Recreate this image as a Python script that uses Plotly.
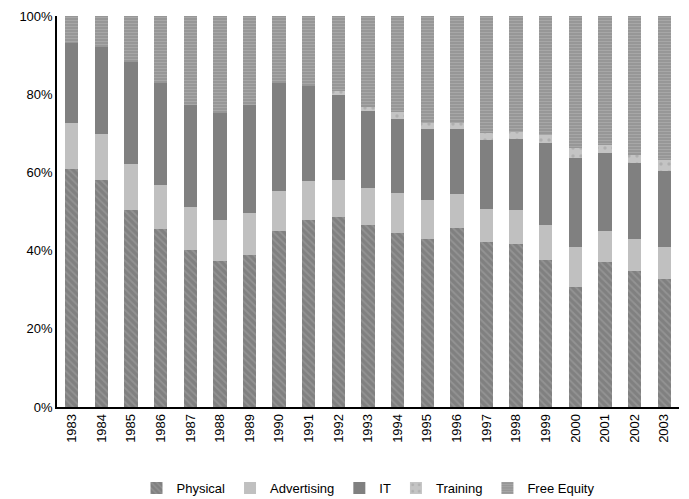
import plotly.graph_objects as go

years = [str(y) for y in range(1983, 2004)]

# Share of total investment by component (%)
physical = [60.9, 58.1, 50.4, 45.5, 40.2, 37.3, 38.9, 45.1, 47.8, 48.6, 46.6,
            44.5, 43.0, 45.8, 42.2, 41.7, 37.6, 30.7, 37.0, 34.8, 32.7]
advertising = [11.7, 11.7, 11.7, 11.3, 11.0, 10.5, 10.7, 10.1, 10.0, 9.5, 9.4,
               10.2, 10.0, 8.7, 8.4, 8.7, 8.9, 10.2, 8.0, 8.2, 8.2]
it = [20.6, 22.3, 26.2, 26.1, 26.0, 27.3, 27.6, 27.6, 24.3, 21.7, 19.7,
      19.0, 18.1, 16.6, 17.7, 18.1, 21.0, 22.8, 20.0, 19.4, 19.5]
training = [0, 0, 0, 0, 0, 0, 0, 0, 0, 1.0, 1.1,
            1.7, 1.6, 1.6, 1.7, 1.9, 2.1, 2.6, 2.1, 2.1, 2.9]
free_equity = [6.8, 7.9, 11.7, 17.1, 22.8, 24.9, 22.8, 17.2, 17.9, 19.2, 23.2,
               24.6, 27.3, 27.3, 30.0, 29.6, 30.4, 33.7, 32.9, 35.5, 36.7]

y_ticks = [0, 20, 40, 60, 80, 100]
y_tick_labels = ["0%", "20%", "40%", "60%", "80%", "100%"]

font_family = "Liberation Sans, Arial, sans-serif"

fig = go.Figure()
fig.add_trace(go.Bar(
    name="Physical", x=years, y=physical,
    marker=dict(color="#808080", line=dict(width=0),
                pattern=dict(shape="\\", fgcolor="#a6a6a6", bgcolor="#808080",
                             size=5, solidity=0.35)),
))
fig.add_trace(go.Bar(
    name="Advertising", x=years, y=advertising,
    marker=dict(color="#c0c0c0", line=dict(width=0)),
))
fig.add_trace(go.Bar(
    name="IT", x=years, y=it,
    marker=dict(color="#808080", line=dict(width=0)),
))
fig.add_trace(go.Bar(
    name="Training", x=years, y=training,
    marker=dict(color="#c0c0c0", line=dict(width=0),
                pattern=dict(shape=".", fgcolor="#999999", bgcolor="#c4c4c4",
                             size=8, solidity=0.15)),
))
fig.add_trace(go.Bar(
    name="Free Equity", x=years, y=free_equity,
    marker=dict(color="#9a9a9a", line=dict(width=0),
                pattern=dict(shape="-", fgcolor="#bcbcbc", bgcolor="#939393",
                             size=3, solidity=0.45)),
))

fig.update_layout(
    barmode="stack",
    bargap=0.55,
    width=689, height=499,
    margin=dict(l=57, r=10, t=16, b=92, autoexpand=False),
    paper_bgcolor="white", plot_bgcolor="white",
    font=dict(family=font_family, size=13, color="#000000"),
    showlegend=True,
    legend=dict(orientation="h", x=0.5, xanchor="center",
                y=0.022, yanchor="middle", yref="container",
                font=dict(size=13), tracegroupgap=0, traceorder="normal"),
)
fig.update_xaxes(
    type="category", tickangle=-90, showline=True, linecolor="#000000",
    linewidth=1.5, ticks="", showgrid=False, tickfont=dict(size=13),
    automargin=False,
)
fig.update_yaxes(
    range=[0, 100], tickmode="array", tickvals=y_ticks, ticktext=y_tick_labels,
    showline=True, linecolor="#000000", linewidth=1.5, ticks="",
    showgrid=False, zeroline=False, tickfont=dict(size=13), automargin=False,
)

fig.write_html("out.html")
